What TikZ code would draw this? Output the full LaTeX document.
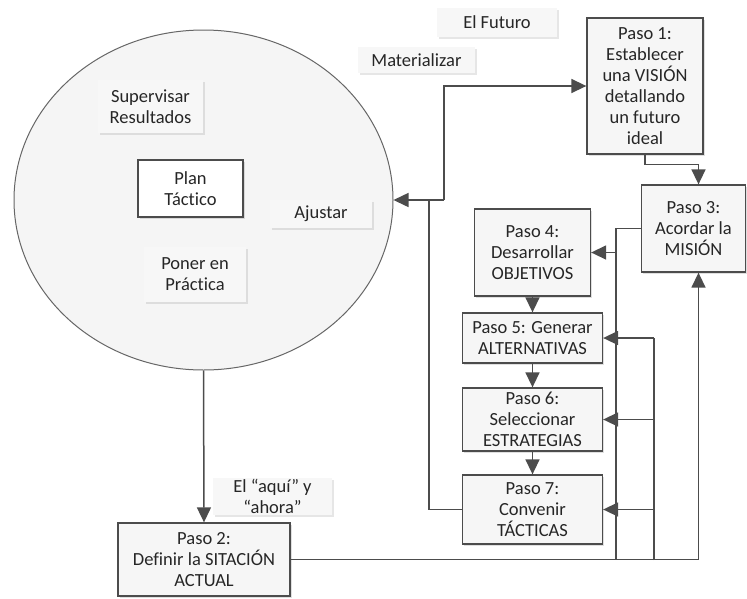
\documentclass[tikz,border=0pt]{standalone}
\usepackage{fontspec}
\setmainfont[Ligatures=NoCommon]{Carlito}
\usepackage{tikz}
\usetikzlibrary{shapes.geometric, arrows.meta, positioning, calc, shadows}

\begin{document}
\begin{tikzpicture}[
    x=1pt, y=-1pt,
    every node/.style={font=\fontsize{18.5}{21}\selectfont, text=black!85},
    stepbox/.style={rectangle, draw=black!70, fill=gray!7, line width=1.3pt, align=center, inner sep=1pt,
        drop shadow={shadow xshift=1.5pt, shadow yshift=-1.5pt, opacity=0.25}},
    tagbox/.style={rectangle, fill=gray!6, align=center, inner sep=1pt,
        drop shadow={shadow xshift=2pt, shadow yshift=-2pt, opacity=0.2}},
    arrow/.style={-{Triangle[length=15pt, width=14pt]}, line width=1.5pt, draw=black!70},
    wire/.style={line width=1.5pt, draw=black!70}
]
\useasboundingbox (0,0) rectangle (747,598);

% Cycle (left)
\node[ellipse, draw=black!60, fill=gray!8, line width=1pt, minimum width=379pt, minimum height=340pt, inner sep=0pt] (cycle) at (203.5,200) {};
\node[tagbox, minimum width=105pt, minimum height=53pt] (supervisar) at (150.5,106.5) {Supervisar\\Resultados};
\node[stepbox, fill=white, minimum width=105pt, minimum height=57pt] (plan) at (190.5,188.5) {Plan\\Táctico};
\node[tagbox, minimum width=102pt, minimum height=28pt] (ajustar) at (321,214) {Ajustar};
\node[tagbox, minimum width=102pt, minimum height=55pt] (poner) at (195,274.5) {Poner en\\Práctica};

% Labels (top)
\node[tagbox, minimum width=120pt, minimum height=29pt] (futuro) at (497,22) {El Futuro};
\node[tagbox, minimum width=117pt, minimum height=26pt] (materializar) at (416.5,60) {Materializar};
\node[tagbox, minimum width=119pt, minimum height=37pt] (aqui) at (272.5,496.5) {El “aquí” y\\“ahora”};

% Steps
\node[stepbox, minimum width=116pt, minimum height=136pt] (paso1) at (645,86) {Paso 1:\\Establecer\\una VISIÓN\\detallando\\un futuro\\ideal};
\node[stepbox, minimum width=172pt, minimum height=73pt] (paso2) at (204,559.5) {Paso 2:\\Definir la SITACIÓN\\ACTUAL};
\node[stepbox, minimum width=104pt, minimum height=87pt] (paso3) at (693.5,228.5) {Paso 3:\\Acordar la\\MISIÓN};
\node[stepbox, minimum width=116pt, minimum height=87pt] (paso4) at (532.5,252.5) {Paso 4:\\Desarrollar\\OBJETIVOS};
\node[stepbox, minimum width=140pt, minimum height=50pt] (paso5) at (532.5,338) {Paso 5: Generar\\ALTERNATIVAS};
\node[stepbox, minimum width=140pt, minimum height=63pt] (paso6) at (532.5,419.5) {Paso 6:\\Seleccionar\\ESTRATEGIAS};
\node[stepbox, minimum width=140pt, minimum height=69pt] (paso7) at (532.5,509.5) {Paso 7:\\Convenir\\TÁCTICAS};

% Junctions
\coordinate (backbus) at (429,200);
\coordinate (visbus) at (444,200);
\coordinate (busA) at (616,560);
\coordinate (busB) at (654,560);

% Cycle down to present situation
\draw[arrow] (cycle.south) -- (paso2.north);

% Present situation to mission
\draw[arrow] (paso2.east) -| ([xshift=5pt]paso3.south);

% Vision to mission
\draw[arrow] (paso1.south) -- ++(0,10) -| ([xshift=5pt]paso3.north);

% Mission down the chain
\draw[wire] (paso3.west) -| (busA);
\draw[arrow] (paso4.east -| busA) -- (paso4.east);
\draw[wire] (busB) -- (paso5.east -| busB);
\draw[arrow] (paso5.east -| busB) -- (paso5.east);
\draw[arrow] (paso6.east -| busB) -- (paso6.east);
\draw[arrow] (paso7.east -| busB) -- (paso7.east);

% Chain
\draw[arrow] (paso4) -- (paso5);
\draw[arrow] (paso5) -- (paso6);
\draw[arrow] (paso6) -- (paso7);

% Tactics back to the cycle and to the vision
\draw[wire] (paso7.west) -| (backbus);
\draw[arrow] (visbus) -- (cycle.east);
\draw[arrow] (visbus) |- (paso1.west);

\end{tikzpicture}
\end{document}
